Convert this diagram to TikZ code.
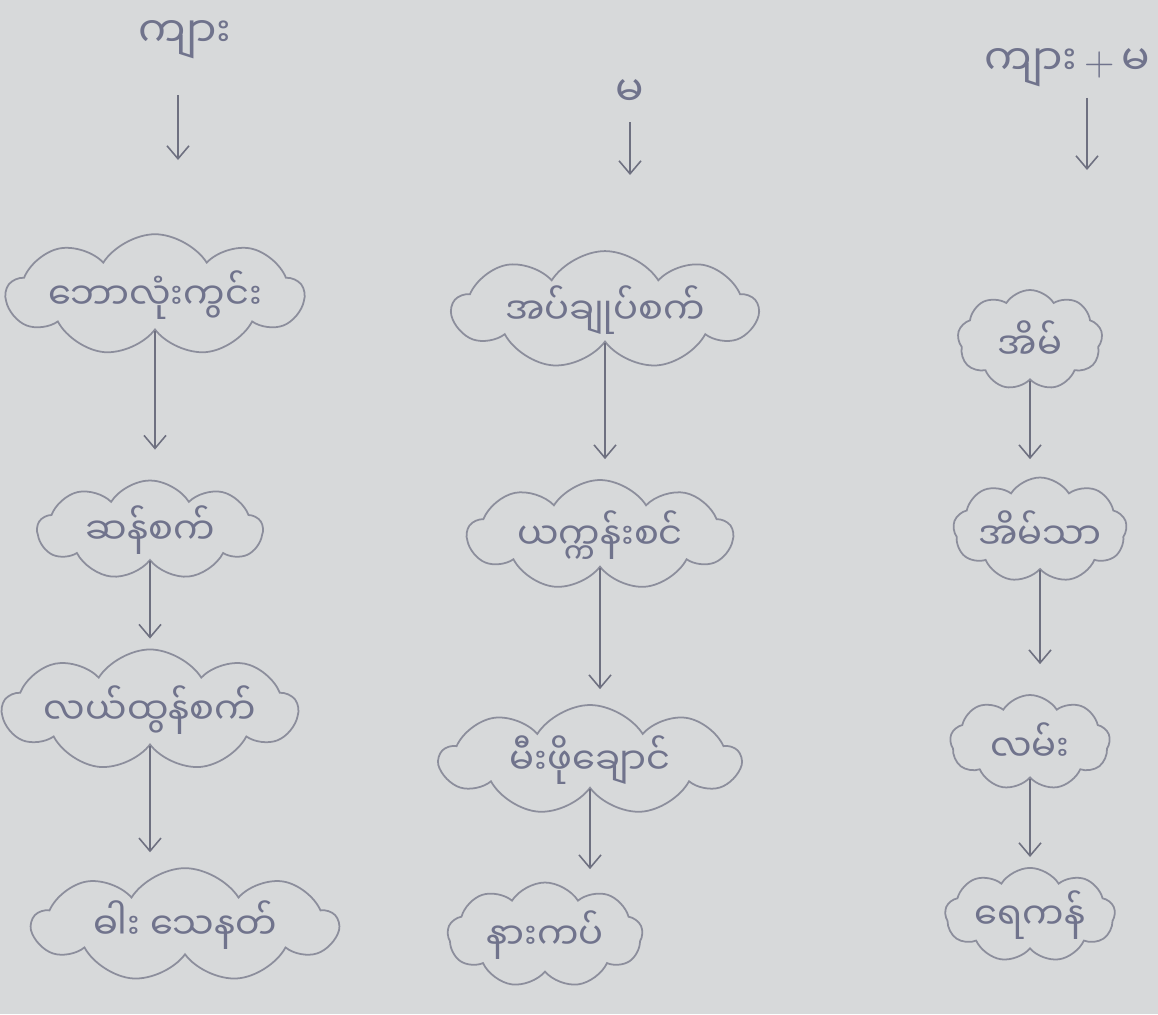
\documentclass[tikz,border=0pt]{standalone}
\usepackage{fontspec}
\newfontfamily\mmfont[Script=Myanmar]{Noto Sans Myanmar UI}
\usetikzlibrary{
  shapes.symbols,
  arrows.meta,
  positioning
}
\definecolor{paper}{HTML}{D7D9DA}
\definecolor{ink}{HTML}{70738C}
\definecolor{pencil}{HTML}{8C8E9C}
\definecolor{lead}{HTML}{6E7080}

\begin{document}
\begin{tikzpicture}[
    puff/.style={cloud, cloud puffs=9, cloud puff arc=115, cloud ignores aspect,
      draw=pencil, line width=1pt, text=ink, inner sep=0pt,
      font=\mmfont\fontsize{21}{25}\selectfont},
    flow/.style={-{Straight Barb[length=2.6mm,width=4.4mm]}, draw=lead, line width=0.9pt},
    head/.style={text=ink, font=\mmfont\fontsize{24}{28}\selectfont}
  ]
  \useasboundingbox (0,0) rectangle (23.16,-20.28);
  \fill[paper] (0,0) rectangle (23.16,-20.28);

  \node[head] (male) at (3.7,-0.8) {ကျား};
  \node[head] (female) at (12.6,-1.85) {မ};
  \node[head] (both) at (21.35,-1.35) {ကျား\,{\normalfont +}\,မ};

  \node[puff, minimum width=5.5cm, minimum height=1.7cm] (c11) at (3.1,-5.9) {ဘောလုံးကွင်း};
  \node[puff, minimum width=4.5cm, minimum height=1.9cm] (c12) at (3.0,-10.6) {ဆန်စက်};
  \node[puff, minimum width=5.5cm, minimum height=1.7cm] (c13) at (3.0,-14.2) {လယ်ထွန်စက်};
  \node[puff, minimum width=6.1cm, minimum height=1.7cm] (c14) at (3.7,-18.5) {ဓါး သေနတ်};

  \node[puff, minimum width=6.1cm, minimum height=2.2cm] (c21) at (12.1,-6.2) {အပ်ချုပ်စက်};
  \node[puff, minimum width=5.3cm, minimum height=2.2cm] (c22) at (12.0,-10.7) {ယက္ကန်းစင်};
  \node[puff, minimum width=6.0cm, minimum height=2.2cm] (c23) at (11.8,-15.2) {မီးဖိုချောင်};
  \node[puff, minimum width=3.9cm, minimum height=2.1cm] (c24) at (10.9,-18.7) {နားကပ်};

  \node[puff, minimum width=2.9cm, minimum height=2.0cm] (c31) at (20.6,-6.8) {အိမ်};
  \node[puff, minimum width=3.4cm, minimum height=2.1cm] (c32) at (20.8,-10.6) {အိမ်သာ};
  \node[puff, minimum width=3.2cm, minimum height=1.9cm] (c33) at (20.6,-14.85) {လမ်း};
  \node[puff, minimum width=3.4cm, minimum height=1.8cm] (c34) at (20.6,-18.3) {ရေကန်};

  \coordinate (m1) at (3.56,-3.2);
  \coordinate (f1) at (12.6,-3.5);
  \coordinate (b1) at (21.74,-3.4);
  \draw[flow, shorten <=6mm] (male.south -| m1) -- (m1);
  \draw[flow, shorten <=2mm] (female.south) -- (f1);
  \draw[flow, shorten <=1mm] (both.south -| b1) -- (b1);

  \foreach \a/\b/\g in {c11/c12/6mm, c12/c13/2mm, c13/c14/3mm,
                        c21/c22/4mm, c22/c23/3mm, c23/c24/2.5mm,
                        c31/c32/3.5mm, c32/c33/6mm, c33/c34/2mm}
    \draw[flow, shorten >=\g] (\a.south) -- (\a.south |- \b.north);
\end{tikzpicture}
\end{document}
